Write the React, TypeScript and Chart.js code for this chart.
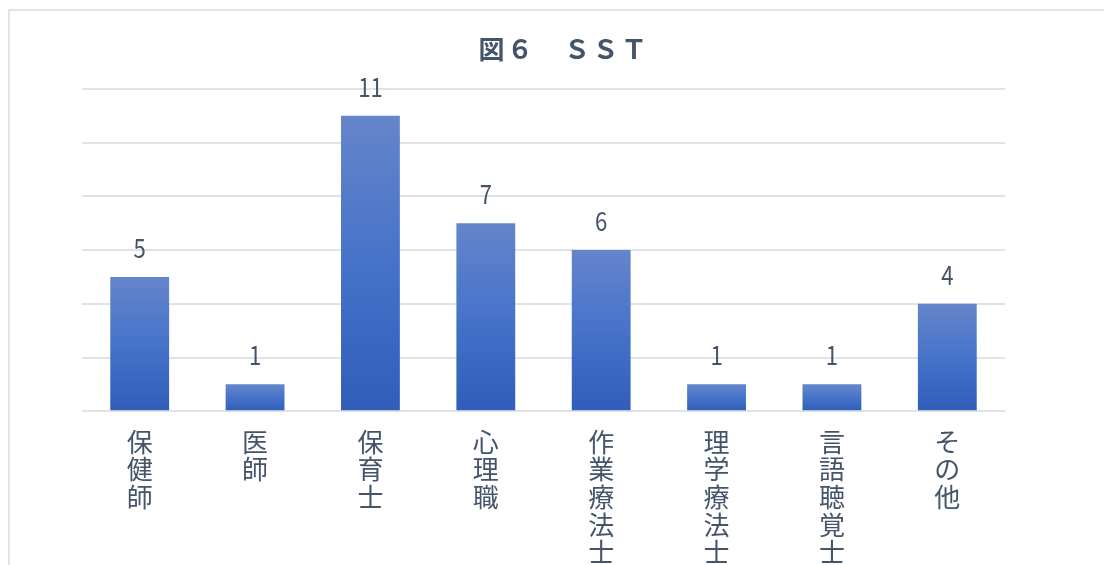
import React, { useEffect, useRef } from "react";
import { Chart, registerables } from "chart.js";

Chart.register(...registerables);

const title = "図６　ＳＳＴ";
const categories = ["保健師", "医師", "保育士", "心理職", "作業療法士", "理学療法士", "言語聴覚士", "その他"];
const values = [5, 1, 11, 7, 6, 1, 1, 4];
const yMax = 12;
const yStep = 2;

const textColor = "#44546a";
const fontFamily = "'Noto Sans CJK JP', 'Noto Sans', sans-serif";

const dataLabelPlugin = {
  id: "dataLabels",
  afterDatasetsDraw(chart: any) {
    const { ctx } = chart;
    const meta = chart.getDatasetMeta(0);
    ctx.save();
    ctx.fillStyle = textColor;
    ctx.font = `27px ${fontFamily}`;
    ctx.textAlign = "center";
    ctx.textBaseline = "alphabetic";
    meta.data.forEach((bar: any, i: number) => {
      ctx.save();
      ctx.translate(bar.x, bar.y - 19);
      ctx.scale(0.82, 1);
      ctx.fillText(String(values[i]), 0, 0);
      ctx.restore();
    });
    ctx.restore();
  },
};

const titlePlugin = {
  id: "centerTitle",
  afterDraw(chart: any) {
    const { ctx } = chart;
    ctx.save();
    ctx.fillStyle = textColor;
    ctx.font = `bold 26px ${fontFamily}`;
    (ctx as any).letterSpacing = "2.5px";
    ctx.textAlign = "center";
    ctx.textBaseline = "middle";
    ctx.fillText(title, chart.width / 2 + 4, 38);
    ctx.restore();
  },
};

export default function App() {
  const ref = useRef<HTMLCanvasElement | null>(null);

  useEffect(() => {
    if (!ref.current) return;
    const chart = new Chart(ref.current, {
      type: "bar",
      data: {
        labels: categories.map((c) => c.split("")),
        datasets: [
          {
            data: values,
            barPercentage: 0.51,
            categoryPercentage: 1,
            backgroundColor: (context: any) => {
              const ch = context.chart;
              const yScale = ch.scales && ch.scales.y;
              if (!yScale || context.raw === undefined) return "#4472c4";
              const top = yScale.getPixelForValue(context.raw);
              const bottom = yScale.getPixelForValue(0);
              if (!isFinite(top) || !isFinite(bottom) || top === bottom) return "#4472c4";
              const g = ch.ctx.createLinearGradient(0, top, 0, bottom);
              g.addColorStop(0, "#6585cb");
              g.addColorStop(0.5, "#4673c9");
              g.addColorStop(1, "#2f5db9");
              return g;
            },
          },
        ],
      },
      options: {
        responsive: false,
        animation: false,
        layout: { padding: { left: 72, right: 105, top: 78, bottom: 0 } },
        plugins: {
          legend: { display: false },
          tooltip: { enabled: false },
          title: { display: false },
        },
        scales: {
          x: {
            grid: { display: false, drawTicks: false },
            border: { display: false },
            ticks: {
              color: textColor,
              font: { family: fontFamily, size: 26, lineHeight: 1.06 },
              padding: 17,
              maxRotation: 0,
              autoSkip: false,
            },
          },
          y: {
            min: 0,
            max: yMax,
            ticks: { display: false, stepSize: yStep },
            grid: { color: "#dfe3e9", lineWidth: 2, drawTicks: false },
            border: { display: false },
          },
        },
      },
      plugins: [dataLabelPlugin, titlePlugin],
    });
    return () => chart.destroy();
  }, []);

  return (
    <div
      style={{
        marginTop: 1,
        width: 1120,
        height: 640,
        borderTop: "2px solid #e1e5ea",
        borderLeft: "2px solid #e1e5ea",
        boxSizing: "border-box",
      }}
    >
      <canvas ref={ref} width={1100} height={572} style={{ display: "block" }} />
    </div>
  );
}
